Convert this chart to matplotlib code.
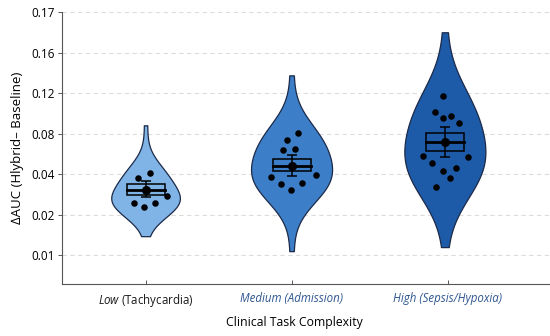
import numpy as np
import matplotlib
matplotlib.use("Agg")
import matplotlib.pyplot as plt
from matplotlib import mlab

plt.rcParams["font.family"] = ["Open Sans", "DejaVu Sans"]
plt.rcParams["mathtext.fontset"] = "custom"
plt.rcParams["mathtext.it"] = "Open Sans:italic"
plt.rcParams["mathtext.rm"] = "Open Sans"

# categories ("Low" alone is italic in the original)
groups = ["$\\mathit{Low}$ (Tachycardia)", "Medium (Admission)", "High (Sepsis/Hypoxia)"]
label_italic = [False, True, True]
label_colors = ["#1a1a1a", "#2f568f", "#2f568f"]
fill_colors = ["#80b4e6", "#3c7ec8", "#1d5ba9"]

# y tick labels are unevenly spaced values on an even grid
tick_values = [0.01, 0.02, 0.04, 0.08, 0.12, 0.16, 0.17]

# per-task points (delta AUC) and their horizontal jitter
low_pts = [0.0417, 0.0380, 0.0293, 0.0260, 0.0257, 0.0236]
low_jit = [0.03, -0.05, 0.15, -0.08, 0.064, -0.014]
med_pts = [0.0808, 0.0736, 0.0644, 0.0650, 0.0387, 0.0397, 0.0351, 0.0356, 0.0322]
med_jit = [0.041, -0.03, -0.06, 0.023, -0.142, 0.164, -0.075, 0.071, -0.007]
high_pts = [0.1177, 0.1012, 0.0976, 0.0956, 0.0907, 0.0585, 0.0571, 0.0512,
            0.0462, 0.0436, 0.0382, 0.0339]
high_jit = [-0.014, -0.07, 0.044, -0.011, 0.096, -0.148, 0.16, -0.091,
            0.073, -0.011, 0.037, -0.062]

# box: q1, median, q3; error bar: lower, upper; mean
q1 = [0.0300, 0.0430, 0.0630]
medians = [0.0321, 0.0479, 0.0716]
q3 = [0.0351, 0.0551, 0.0812]
ci_low = [0.0286, 0.0392, 0.0571]
ci_high = [0.0365, 0.0594, 0.0867]
means = [0.0321, 0.0479, 0.0716]

# violin extent
v_bottom = [0.0147, 0.0110, 0.0120]
v_top = [0.0884, 0.1378, 0.1651]

positions = [0, 1, 2.05]
v_widths = [0.47, 0.555, 0.555]


def to_pos(v):
    return np.interp(v, [0.0] + tick_values, np.arange(len(tick_values) + 1))


fig = plt.figure(figsize=(5.5, 3.36), dpi=100)
ax = fig.add_axes([0.112, 0.155, 0.888, 0.808])

all_pts = [low_pts, med_pts, high_pts]
all_jit = [low_jit, med_jit, high_jit]

for i, pts in enumerate(all_pts):
    y = to_pos(np.array(pts))
    kde = mlab.GaussianKDE(y, bw_method=1.05)
    coords = np.linspace(to_pos(v_bottom[i]), to_pos(v_top[i]), 200)
    vals = kde.evaluate(coords)
    vals = vals + 0.05 * vals.max()
    stats = {"coords": coords, "vals": vals, "mean": to_pos(means[i]),
             "median": to_pos(medians[i]), "min": coords[0], "max": coords[-1]}
    parts = ax.violin([stats], positions=[positions[i]], widths=v_widths[i],
                      showmeans=False, showextrema=False)
    for body in parts["bodies"]:
        body.set_facecolor(fill_colors[i])
        body.set_edgecolor("#1c2a48")
        body.set_linewidth(0.9)
        body.set_alpha(1)
        body.set_zorder(2)

    x = positions[i] + np.array(all_jit[i])
    ax.scatter(x, y, s=22, color="black", zorder=4, linewidths=0)

    # box
    bw = 0.13
    b0, b1 = to_pos(q1[i]), to_pos(q3[i])
    ax.add_patch(plt.Rectangle((positions[i] - bw, b0), 2 * bw, b1 - b0,
                               fill=False, edgecolor="black", lw=1.1, zorder=3))
    ax.plot([positions[i] - bw, positions[i] + bw], [to_pos(medians[i])] * 2,
            color="black", lw=2, zorder=3)
    m = to_pos(means[i])
    ax.errorbar(positions[i], m,
                yerr=[[m - to_pos(ci_low[i])], [to_pos(ci_high[i]) - m]],
                fmt="o", color="black", ms=5.5, capsize=3.5, elinewidth=1.1,
                capthick=1.1, zorder=5)

ax.set_xlim(-0.575, 2.77)
ax.set_ylim(0.29, 7.0)
ax.set_yticks(np.arange(1, len(tick_values) + 1))
ax.set_yticklabels([f"{v:.2f}" for v in tick_values])
ax.set_xticks([0, 1, 2.07])
ax.set_xticklabels(groups, fontsize=8.3)
for lab, c, it in zip(ax.get_xticklabels(), label_colors, label_italic):
    lab.set_color(c)
    if it:
        lab.set_fontstyle("italic")

ax.grid(axis="y", linestyle=(0, (4, 3)), color="#dcdcdc", lw=0.8)
ax.set_axisbelow(True)
ax.spines["top"].set_visible(False)
ax.spines["right"].set_visible(False)
for s in ("left", "bottom"):
    ax.spines[s].set_color("#555555")
    ax.spines[s].set_linewidth(0.8)
ax.tick_params(axis="y", labelsize=8.5, length=3, width=0.7, color="#555555", pad=2)
ax.tick_params(axis="x", direction="in", length=3, width=0.7, color="#555555", pad=6)

ax.set_xlabel("Clinical Task Complexity", fontsize=8.8, labelpad=9)
ax.xaxis.set_label_coords(0.476, -0.12)
ax.set_ylabel("\u2206AUC (Hlybrid\u2013 Baseline)", fontsize=9.5, labelpad=5,
              family=["Open Sans", "DejaVu Sans"])

fig.savefig("out.png", dpi=100)
